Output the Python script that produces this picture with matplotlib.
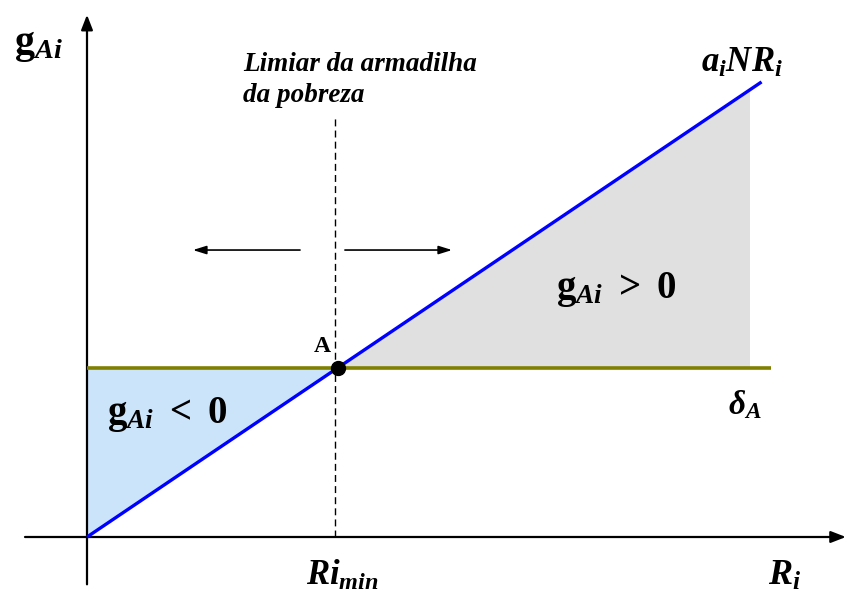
import matplotlib
matplotlib.use("Agg")
import matplotlib.pyplot as plt
import numpy as np
from matplotlib.patches import Polygon

plt.rcParams['mathtext.fontset'] = 'custom'
plt.rcParams['mathtext.rm'] = 'Liberation Serif:bold'
plt.rcParams['mathtext.it'] = 'Liberation Serif:bold:italic'
plt.rcParams['mathtext.bf'] = 'Liberation Serif:bold'

# ---- data (model units) ----
ri_min = 1.0            # poverty-trap threshold on R_i
delta_A = 1.0           # horizontal level delta_A
slope_aiN = 0.99        # slope of a_i N R_i
line_x = [0.0, 2.72]    # extent of the a_i N R_i line
delta_x = [0.0, 2.76]   # extent of delta_A line
fill_right = 2.673      # right edge of positive-growth region
x_axis = [-0.25, 3.06]
y_axis = [-0.28, 3.09]
dash_y = [0.0, 2.48]
arrow_y = 1.698
left_arrow = [0.859, 0.427]
right_arrow = [1.040, 1.472]

W, H = 846, 594
fig = plt.figure(figsize=(W / 100, H / 100), dpi=100)
ax = fig.add_axes([0, 0, 1, 1])
ax.set_xlim(-87 / 248, 759 / 248)
ax.set_ylim(-57 / 169, 537 / 169)
ax.axis('off')

def f(x):
    return slope_aiN * np.asarray(x)

# fills
x_cross = delta_A / slope_aiN
ax.add_patch(Polygon([[0, delta_A], [x_cross, delta_A], [0, 0]],
                     closed=True, facecolor='#cce4fa', edgecolor='none', zorder=1))
ax.add_patch(Polygon([[x_cross, delta_A], [fill_right, delta_A], [fill_right, f(fill_right)]],
                     closed=True, facecolor='#e0e0e0', edgecolor='none', zorder=1))

# axes with arrows
ax.annotate('', xy=(x_axis[1], 0), xytext=(x_axis[0], 0),
            arrowprops=dict(arrowstyle='-|>,head_length=0.9,head_width=0.35', lw=1.6,
                            color='black', shrinkA=0, shrinkB=0), zorder=2)
ax.annotate('', xy=(0, y_axis[1]), xytext=(0, y_axis[0]),
            arrowprops=dict(arrowstyle='-|>,head_length=0.9,head_width=0.35', lw=1.6,
                            color='black', shrinkA=0, shrinkB=0), zorder=2)

# dashed threshold line
ax.plot([ri_min, ri_min], dash_y, color='black', lw=1.0, ls=(0, (5, 3)), zorder=2)

# delta_A line
ax.plot(delta_x, [delta_A, delta_A], color='#808000', lw=2.6, zorder=3, solid_capstyle='butt')
# a_i N R_i line
ax.plot(line_x, f(line_x), color='#0000ff', lw=2.4, zorder=4, solid_capstyle='butt')

# point A
ax.plot([x_cross], [delta_A], 'o', color='black', ms=10, zorder=5)

# direction arrows
for xs in (left_arrow, right_arrow):
    ax.annotate('', xy=(xs[1], arrow_y), xytext=(xs[0], arrow_y),
                arrowprops=dict(arrowstyle='-|>,head_length=0.8,head_width=0.25', lw=1.2,
                                color='black', shrinkA=0, shrinkB=0), zorder=2)

def T(px, py, s, **kw):
    fig.text(px / W, 1 - py / H, s, **kw)

T(38, 44, r'$\mathrm{g}_{Ai}$', fontsize=29, ha='center', va='center')
T(243, 80, 'Limiar da armadilha\nda pobreza', fontsize=19.5, ha='left', va='center',
  family='Liberation Serif', weight='bold', style='italic', linespacing=1.3)
T(742, 62, r'$a_iNR_i$', fontsize=25, ha='center', va='center')
T(322, 346, 'A', fontsize=17, ha='center', va='center', family='Liberation Serif', weight='bold')
T(616, 289, r'$\mathrm{g}_{Ai}\ >\ \mathrm{0}$', fontsize=28, ha='center', va='center')
T(167, 414, r'$\mathrm{g}_{Ai}\ <\ \mathrm{0}$', fontsize=28, ha='center', va='center')
T(745, 405, r'$\delta_A$', fontsize=24, ha='center', va='center')
T(342, 575, r'$Ri_{min}$', fontsize=25, ha='center', va='center')
T(785, 575, r'$R_i$', fontsize=26, ha='center', va='center')

fig.savefig('out.png', dpi=100)
